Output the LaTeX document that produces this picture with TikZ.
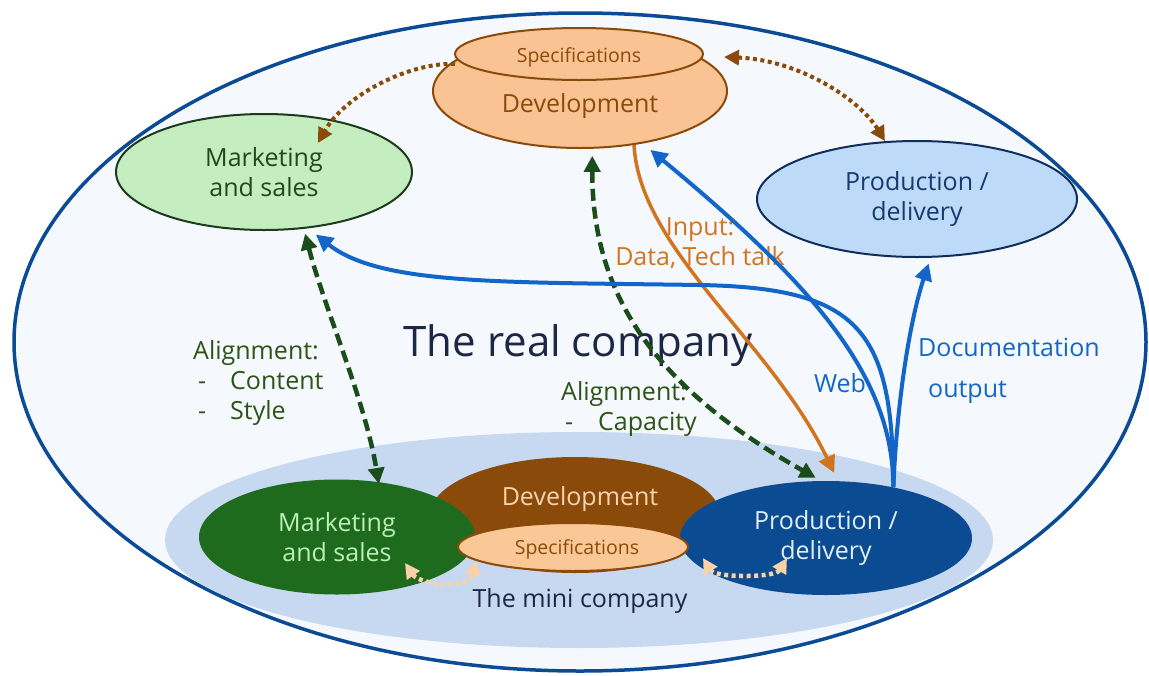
\documentclass[tikz,border=0pt]{standalone}
\usepackage{fontspec}
\setmainfont{Open Sans}
\usetikzlibrary{shapes.geometric,arrows.meta,calc}
\definecolor{couter}{HTML}{F5F8FD}
\definecolor{cborder}{HTML}{0B4A94}
\definecolor{cmini}{HTML}{C6D9F0}
\definecolor{cpeach}{HTML}{FAC393}
\definecolor{cbrown}{HTML}{8A4A0A}
\definecolor{clgreen}{HTML}{C4EEC0}
\definecolor{cdgreenline}{HTML}{1C3A1C}
\definecolor{cmkttxt}{HTML}{1D4A1D}
\definecolor{clblue}{HTML}{BDDBF8}
\definecolor{cnavyline}{HTML}{102E5C}
\definecolor{cprodtxt}{HTML}{173A6E}
\definecolor{cgreen2}{HTML}{1E6B1E}
\definecolor{cgreen2txt}{HTML}{BDEFB8}
\definecolor{cblue2}{HTML}{0A4B91}
\definecolor{cblue2txt}{HTML}{E2EEFA}
\definecolor{cdev2txt}{HTML}{F8D5AE}
\definecolor{cspec2}{HTML}{FAC896}
\definecolor{calign}{HTML}{2D5316}
\definecolor{cdash}{HTML}{1B4D1B}
\definecolor{corange}{HTML}{D2741E}
\definecolor{cblue}{HTML}{1366C9}
\definecolor{clpeach}{HTML}{FAD2A8}
\definecolor{ctitle}{HTML}{1C2745}
\begin{document}
\begin{tikzpicture}[x=1pt,y=-1pt,
  browntip/.tip={Triangle[length=15pt,width=15pt]},
  ell/.style={ellipse, inner sep=0pt, line width=2pt},
  txt/.style={font=\fontsize{25}{30}\selectfont, inner sep=0pt, align=center},
  smalltxt/.style={font=\fontsize{19.5}{22}\selectfont, inner sep=0pt},
  bluearr/.style={draw=cblue, line width=4pt, -{Triangle[length=17pt,width=17pt]}},
  browndot/.style={draw=cbrown, line width=4pt, dash pattern=on 4pt off 3.5pt},
  greendash/.style={draw=cdash, line width=4.5pt, dash pattern=on 12pt off 6pt, {Triangle[length=16pt,width=16pt]}-{Triangle[length=16pt,width=16pt]}},
  peachdot/.style={draw=clpeach, line width=4.5pt, dash pattern=on 4pt off 3.5pt, {Triangle[length=15pt,width=15pt]}-{Triangle[length=15pt,width=15pt]}}
  ]
\useasboundingbox (0,0) rectangle (1149,675);
% outer and mini company
\node[ellipse, draw=cborder, fill=couter, line width=3.5pt, minimum width=1132pt, minimum height=658pt, inner sep=0pt] (real) at (580,342) {};
\node[ellipse, fill=cmini, minimum width=828pt, minimum height=216pt, inner sep=0pt] (mini) at (579,540) {};
\node[font=\fontsize{42}{48}\selectfont, text=ctitle, inner sep=0pt] (title) at (578,346) {The real company};
% top nodes
\node[ell, draw=cbrown, fill=cpeach, minimum width=294pt, minimum height=114pt] (dev1) at (580,91) {};
\node[txt, text=cbrown] (dev1t) at (580,106) {Development};
\node[ell, draw=cbrown, fill=cpeach, minimum width=248pt, minimum height=52pt] (spec1) at (579,54) {};
\node[smalltxt, text=cbrown] (spec1t) at (579,57) {Specifications};
\node[ell, draw=cdgreenline, fill=clgreen, minimum width=296pt, minimum height=116pt, txt, text=cmkttxt] (mkt1) at (264,172) {Marketing\\and sales};
\node[ell, draw=cnavyline, fill=clblue, minimum width=320pt, minimum height=116pt, txt, text=cprodtxt] (prod1) at (917,199) {Production /\\delivery};
% bottom nodes
\node[ellipse, inner sep=0pt, fill=cbrown, minimum width=290pt, minimum height=116pt] (dev2) at (575,515) {};
\node[txt, text=cdev2txt] (dev2t) at (580,499) {Development};
\node[ellipse, inner sep=0pt, fill=cgreen2, minimum width=276pt, minimum height=115pt, txt, text=cgreen2txt] (mkt2) at (337,537) {Marketing\\and sales};
\node[ellipse, inner sep=0pt, fill=cblue2, minimum width=292pt, minimum height=114pt, txt, text=cblue2txt] (prod2) at (826,538) {Production /\\delivery};
\node[ell, draw=cbrown, fill=cspec2, minimum width=230pt, minimum height=48pt] (spec2) at (573,547) {};
\node[smalltxt, text=cbrown] (spec2t) at (577,549) {Specifications};
\node[txt, text=ctitle] (minilbl) at (580,601) {The mini company};
% labels
\node[txt, text=calign, align=left, anchor=west] (al1) at (193,383) {Alignment:\\\hspace*{5pt}\makebox[32pt][l]{-}Content\\\hspace*{5pt}\makebox[32pt][l]{-}Style};
\node[txt, text=calign, align=left, anchor=west] (al2) at (561,409) {Alignment:\\\hspace*{4pt}\makebox[33pt][l]{-}Capacity};
\node[txt, text=corange] (inp) at (700,243) {Input:\\Data, Tech talk};
\node[txt, text=cblue] (web) at (840,383) {Web};
\node[txt, text=cblue, anchor=west] (doc) at (918,347) {Documentation};
\node[txt, text=cblue, anchor=west] (outp) at (928,392) {output};
% free-end coordinates
\coordinate (b1s) at (455,64);
\coordinate (b1e) at (318,143);
\coordinate (b2s) at (724,57);
\coordinate (mk2tip) at (405,563);
\coordinate (sp2tip) at (703,558);
\coordinate (pr2tip) at (787,558);
% connectors
\draw[browndot, -browntip] (b1s) .. controls (410,62) and (345,95) .. (b1e);
\draw[browndot, browntip-browntip] (b2s) .. controls (800,60) and (860,100) .. (prod1.119);
\draw[greendash, shorten <=5pt, shorten >=-2pt] (mkt1.-55) .. controls (325,310) and (365,400) .. (mkt2.53);
\draw[greendash, shorten <=7pt, shorten >=6pt] (dev1.-78) .. controls (592,300) and (660,390) .. (prod2.95);
\draw[draw=corange, line width=3.5pt, -{Triangle[length=17pt,width=17pt]}, shorten >=9pt] (dev1.-45) .. controls (640,250) and (770,340) .. (prod2.78);
\draw[bluearr, shorten >=10pt] (prod2.37) .. controls (893,330) and (860,288) .. (700,285) .. controls (500,282) and (380,285) .. (mkt1.-52);
\draw[bluearr, shorten >=10pt] (prod2.37) .. controls (893,380) and (820,290) .. (dev1.-40);
\draw[bluearr, shorten >=6pt] (prod2.37) .. controls (897,400) and (910,320) .. (prod1.-77);
\draw[peachdot] (mk2tip) .. controls (420,585) and (470,590) .. (spec2.188);
\draw[peachdot] (sp2tip) .. controls (715,578) and (775,578) .. (pr2tip);
\end{tikzpicture}
\end{document}
